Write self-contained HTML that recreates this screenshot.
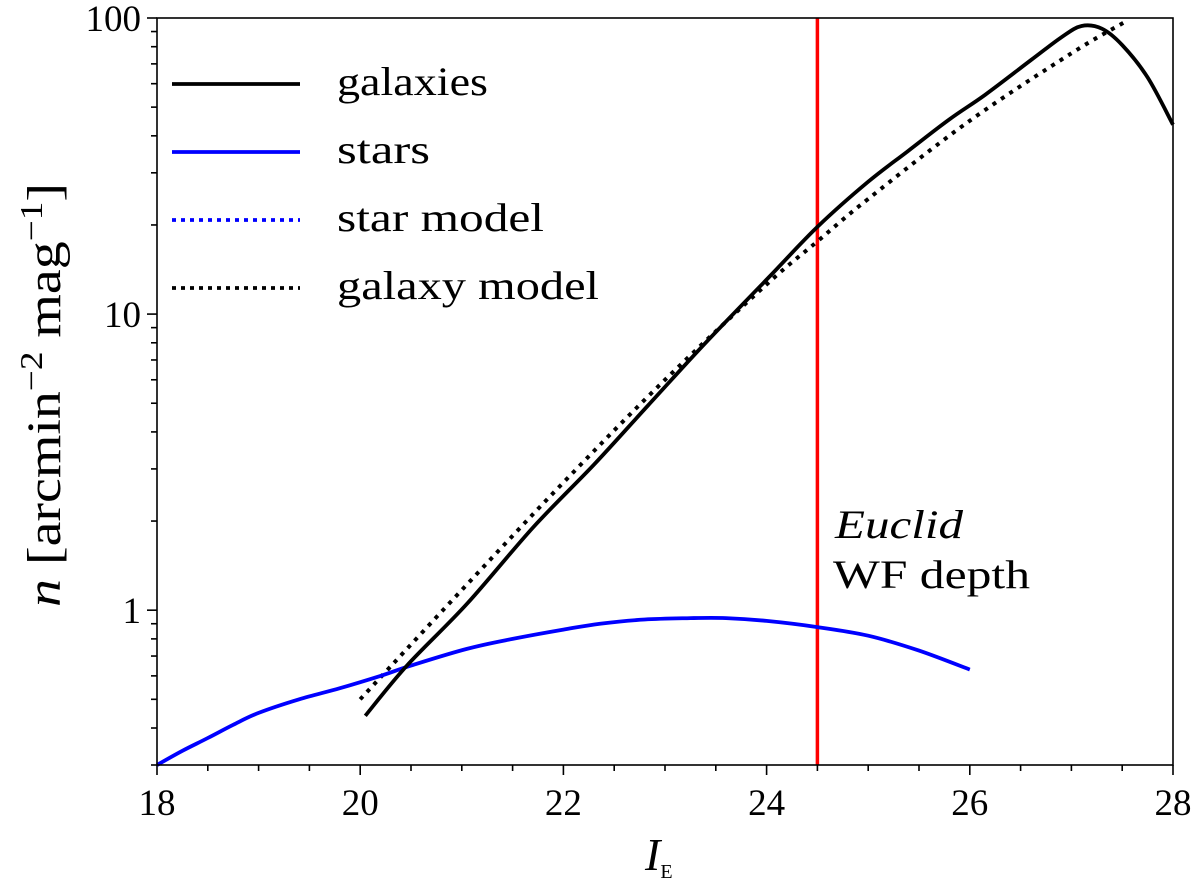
<!DOCTYPE html>
<html><head><meta charset="utf-8"><style>
html,body{margin:0;padding:0;background:#fff;}
svg{display:block;font-family:"Liberation Serif",serif;}
</style></head><body>
<svg id="chart" width="1200" height="885" viewBox="0 0 1200 885"></svg>
<script>
const galMag = [20.05,20.46,21.05,21.7,22.3,22.83,23.4,24.03,24.5,25.0,25.39,25.8,26.15,26.6,26.9,27.1,27.3,27.5,27.75,28.0];
const galVal = [0.44,0.65,1.05,1.9,3.1,4.9,8.0,13.4,19.7,28.0,35.5,45.5,55,72,86,94,92,81,63,43.6];
const modMag = [20.0,21.0,22.0,23.0,24.0,24.5,25.0,26.0,27.0,27.55];
const modVal = [0.5,1.17,2.7,6.0,12.6,17.6,24.5,45,76,98];
const starMag = [18.0,18.25,18.5,18.75,19.0,19.4,19.8,20.2,20.5,21.05,21.5,22.0,22.36,22.8,23.25,23.6,24.0,24.5,25.0,25.5,26.0];
const starVal = [0.30,0.335,0.37,0.41,0.45,0.50,0.545,0.60,0.65,0.74,0.80,0.86,0.90,0.93,0.94,0.94,0.92,0.877,0.82,0.73,0.63];
const xTicks = [18,20,22,24,26,28];
const yTicks = [1,10,100];
const depthMag = 24.5;

const L=157,R=1173,T=18,B=765;
const yMin=Math.log10(0.3),yMax=2;
const X=v=>L+(v-18)/(28-18)*(R-L);
const Y=v=>B-(Math.log10(v)-yMin)/(yMax-yMin)*(B-T);
const NS="http://www.w3.org/2000/svg";
const svg=document.getElementById('chart');
function mk(tag,attrs,parent){const e=document.createElementNS(NS,tag);for(const k in attrs)e.setAttribute(k,attrs[k]);(parent||svg).appendChild(e);return e;}
function path(xs,ys){
  const p=xs.map((m,i)=>[X(m),Y(ys[i])]);
  let d='M'+p[0][0].toFixed(1)+','+p[0][1].toFixed(1);
  for(let i=0;i<p.length-1;i++){
    const p0=p[i-1]||p[i],p1=p[i],p2=p[i+1],p3=p[i+2]||p2;
    const c1=[p1[0]+(p2[0]-p0[0])/6,p1[1]+(p2[1]-p0[1])/6];
    const c2=[p2[0]-(p3[0]-p1[0])/6,p2[1]-(p3[1]-p1[1])/6];
    d+=' C'+c1.map(v=>v.toFixed(1)).join(',')+' '+c2.map(v=>v.toFixed(1)).join(',')+' '+p2[0].toFixed(1)+','+p2[1].toFixed(1);
  }
  return d;
}

const ax=mk('g',{});


for(let v=18;v<=28.001;v+=0.5){
  const major=Math.abs(v-Math.round(v))<1e-6 && Math.round(v)%2===0;
  const t=mk('line',{x1:X(v),x2:X(v),y1:B,y2:B+(major?10:6),stroke:'#000','stroke-width':1.6},ax);
  
  
}
xTicks.forEach(v=>{
  const t=mk('text',{x:X(v),y:B+50,'text-anchor':'middle','font-size':37},ax);
  t.textContent=v;
  
  
});
[0.3,0.4,0.5,0.6,0.7,0.8,0.9,1,2,3,4,5,6,7,8,9,10,20,30,40,50,60,70,80,90,100].forEach(v=>{
  const major=yTicks.includes(v);
  const t=mk('line',{x1:L,x2:L-(major?10:6),y1:Y(v),y2:Y(v),stroke:'#000','stroke-width':1.6},ax);
  
  
});
yTicks.forEach(v=>{
  const t=mk('text',{x:L-16,y:Y(v)+13,'text-anchor':'end','font-size':37},ax);
  t.textContent=v;
  
  
});

const depth=mk('line',{x1:X(depthMag),x2:X(depthMag),y1:T,y2:B,stroke:'#ff0000','stroke-width':3.5});



const gm=mk('path',{d:path(modMag,modVal),fill:'none',stroke:'#000','stroke-width':4,'stroke-dasharray':'4 6'});


const st=mk('path',{d:path(starMag,starVal),fill:'none',stroke:'#0000ff','stroke-width':3.8,'stroke-linejoin':'round'});


const gl=mk('path',{d:path(galMag,galVal),fill:'none',stroke:'#000','stroke-width':3.8,'stroke-linejoin':'round'});



const frame=mk('rect',{x:L,y:T,width:R-L,height:B-T,fill:'none',stroke:'#000','stroke-width':1.6});



const leg=mk('g',{});


const entries=[['galaxies','#000',null,151],['stars','#0000ff',null,93],['star model','#0000ff','4 5',207],['galaxy model','#000','4 5',262]];
entries.forEach((e,i)=>{
  const y=84+i*68;
  const g=mk('g',{},leg);
  
  
  const a={x1:172,x2:300,y1:y,y2:y,stroke:e[1],'stroke-width':3.8};
  if(e[2])a['stroke-dasharray']=e[2];
  mk('line',a,g);
  const t=mk('text',{x:337,y:y+11,'font-size':40,textLength:e[3],lengthAdjust:'spacingAndGlyphs'},g);
  t.textContent=e[0];
});

const ann=mk('text',{x:835,y:538,'font-size':40,'font-style':'italic',textLength:128,lengthAdjust:'spacingAndGlyphs'});
ann.textContent='Euclid';


const ann2=mk('text',{x:833,y:588,'font-size':40,textLength:197,lengthAdjust:'spacingAndGlyphs'});
ann2.textContent='WF depth';



const xl=mk('text',{x:645,y:870,'font-size':46,'font-style':'italic'});
xl.innerHTML='I<tspan font-size="20" font-style="normal" dy="8">E</tspan>';



const yl=mk('text',{x:0,y:0,'font-size':48,'text-anchor':'middle',transform:'translate(60,395) rotate(-90)',textLength:424,lengthAdjust:'spacingAndGlyphs'});
yl.innerHTML='<tspan font-style="italic">n</tspan> [arcmin<tspan dy="-18" font-size="32">−2</tspan><tspan dy="18"> mag</tspan><tspan dy="-18" font-size="32">−1</tspan><tspan dy="18">]</tspan>';


</script>
</body></html>
